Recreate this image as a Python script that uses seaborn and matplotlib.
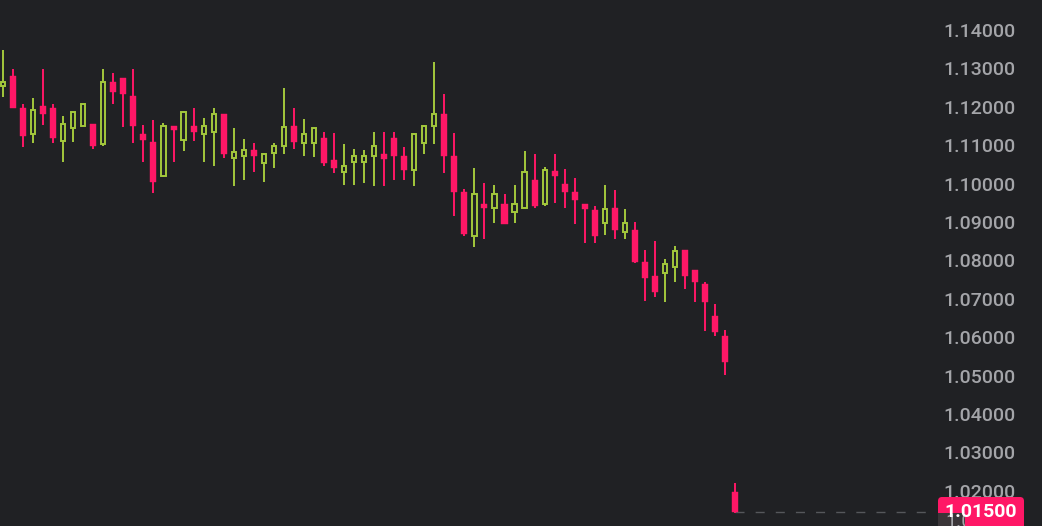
import numpy as np
import matplotlib
matplotlib.use('Agg')
import matplotlib.pyplot as plt
from matplotlib.patches import FancyBboxPatch, Rectangle
from matplotlib.transforms import IdentityTransform
import seaborn as sns

# --- Style -------------------------------------------------------------------
BG    = '#202124'
UP    = '#a3c83c'
DOWN  = '#ff1766'
LABEL = '#a4a5a9'
DASH  = '#55575b'

# --- Data --------------------------------------------------------------------
opens = [1.12542, 1.12802, 1.11969, 1.11299, 1.12021, 1.11969, 1.11102, 1.11456,
         1.11508, 1.11552, 1.11031, 1.12646, 1.12758, 1.12281, 1.11292, 1.11083,
         1.10198, 1.11500, 1.11135, 1.11500, 1.11299, 1.11352, 1.11820, 1.10674,
         1.10719, 1.10875, 1.10529, 1.10789, 1.10987, 1.11500, 1.11049, 1.11049,
         1.11195, 1.10615, 1.10310, 1.10570, 1.10570, 1.10727, 1.10763, 1.11187,
         1.10719, 1.10354, 1.11049, 1.11508, 1.11805, 1.10719, 1.09789, 1.08643,
         1.09469, 1.09372, 1.09469, 1.09268, 1.09357, 1.10094, 1.09469, 1.10336,
         1.09990, 1.09773, 1.09461, 1.09312, 1.08966, 1.09357, 1.08747, 1.08792,
         1.07950, 1.07594, 1.07664, 1.07820, 1.08271, 1.07750, 1.07385, 1.06552,
         1.06031, 1.01969]
highs = [1.13479, 1.12977, 1.12065, 1.12221, 1.12977, 1.12065, 1.11760, 1.11865,
         1.12065, 1.11552, 1.12977, 1.12872, 1.12758, 1.12984, 1.11526, 1.11656,
         1.11570, 1.11500, 1.11891, 1.11969, 1.11708, 1.11969, 1.11820, 1.11440,
         1.11161, 1.11065, 1.10789, 1.11065, 1.12482, 1.11961, 1.11674, 1.11440,
         1.11352, 1.11326, 1.11031, 1.10893, 1.10875, 1.11336, 1.11336, 1.11336,
         1.10945, 1.11310, 1.11526, 1.13159, 1.12326, 1.11310, 1.09852, 1.10398,
         1.10008, 1.09964, 1.09721, 1.09964, 1.10849, 1.10771, 1.10424, 1.10763,
         1.10372, 1.10138, 1.09461, 1.09417, 1.09956, 1.09833, 1.09331, 1.08992,
         1.08271, 1.08513, 1.08036, 1.08383, 1.08271, 1.07750, 1.07430, 1.06865,
         1.06187, 1.02195]
lows = [1.12263, 1.11961, 1.10961, 1.11065, 1.11526, 1.11049, 1.10570, 1.11091,
        1.11508, 1.10901, 1.10979, 1.12073, 1.11469, 1.11065, 1.10570, 1.09747,
        1.10180, 1.10570, 1.10857, 1.11109, 1.10555, 1.10458, 1.10659, 1.09945,
        1.10094, 1.10310, 1.10049, 1.10398, 1.10771, 1.10901, 1.10719, 1.10685,
        1.10458, 1.10268, 1.09964, 1.09964, 1.10016, 1.09945, 1.09945, 1.10094,
        1.10094, 1.09945, 1.10771, 1.11031, 1.10284, 1.09164, 1.08643, 1.08357,
        1.08550, 1.08982, 1.08940, 1.08982, 1.09357, 1.09357, 1.09417, 1.09503,
        1.09357, 1.08948, 1.08445, 1.08461, 1.08661, 1.08550, 1.08550, 1.07940,
        1.06950, 1.07055, 1.06924, 1.07445, 1.07247, 1.06924, 1.06169, 1.06039,
        1.05016, 1.01414]
closes = [1.12654, 1.11977, 1.11247, 1.11909, 1.11820, 1.11195, 1.11544, 1.11857,
          1.12065, 1.10987, 1.12638, 1.12393, 1.12346, 1.11508, 1.11135, 1.10049,
          1.11500, 1.11396, 1.11865, 1.11336, 1.11500, 1.11820, 1.10771, 1.10831,
          1.10875, 1.10719, 1.10771, 1.10979, 1.11482, 1.11091, 1.11284, 1.11440,
          1.10529, 1.10414, 1.10458, 1.10719, 1.10719, 1.10979, 1.10633, 1.10727,
          1.10354, 1.11284, 1.11500, 1.11805, 1.10727, 1.09789, 1.08687, 1.09721,
          1.09372, 1.09721, 1.08948, 1.09461, 1.10294, 1.09424, 1.10354, 1.10206,
          1.09789, 1.09573, 1.09331, 1.08643, 1.09346, 1.08792, 1.08982, 1.07966,
          1.07550, 1.07185, 1.07898, 1.08253, 1.07602, 1.07445, 1.06924, 1.06143,
          1.05362, 1.01460]

y_ticks = [1.02, 1.03, 1.04, 1.05, 1.06, 1.07, 1.08, 1.09, 1.10, 1.11, 1.12, 1.13, 1.14]
last_label = '1.01500'

# --- Figure ------------------------------------------------------------------
sns.set_theme(style='dark', rc={'axes.facecolor': BG, 'figure.facecolor': BG,
                                'lines.scale_dashes': False})
plt.rcParams['font.family'] = ['Roboto', 'DejaVu Sans']

fig = plt.figure(figsize=(10.42, 5.26), dpi=100)
ax = fig.add_axes([0, 0, 932 / 1042, 1])

o = np.array(opens)
h = np.array(highs)
l = np.array(lows)
c = np.array(closes)
x = np.arange(len(o))
up = c >= o

body_lo = np.minimum(o, c)
body_h = np.maximum(np.abs(c - o), 0.00006)

ax.vlines(x, l, h, colors=np.where(up, UP, DOWN), linewidth=1.4, zorder=2)
ax.bar(x[up], body_h[up], bottom=body_lo[up], width=0.42, color=BG,
       edgecolor=UP, linewidth=1.4, zorder=3)
ax.bar(x[~up], body_h[~up], bottom=body_lo[~up], width=0.6, color=DOWN,
       edgecolor=DOWN, linewidth=0.3, zorder=3)

x_right = -0.3 + 932 / 10.03
ax.plot([x[-1], x_right], [c[-1], c[-1]], color=DASH, linewidth=1.0,
        dashes=(6.5, 8), zorder=1, clip_on=False)

ax.set_xlim(-0.3, x_right)
ax.set_ylim(1.010833, 1.147813)
ax.set_xticks([])
ax.set_yticks(y_ticks)
ax.set_yticklabels([f'{v:.5f}' for v in y_ticks], fontweight='medium')
ax.yaxis.tick_right()
ax.tick_params(axis='y', length=0, pad=8, labelsize=14, labelcolor=LABEL)
ax.grid(False)
sns.despine(ax=ax, left=True, bottom=True, right=True, top=True)

# --- Last price label ----------------------------------------------------------
ident = IdentityTransform()
box = FancyBboxPatch((938, -6), 86, 35, boxstyle='round,pad=0,rounding_size=4',
                     transform=ident, facecolor=DOWN, edgecolor='none', zorder=5)
fig.patches.append(box)
shade = Rectangle((938, 0), 27, 13, transform=ident, facecolor='#3a3538',
                  edgecolor='none', zorder=6)
fig.patches.append(shade)
ghost = fig.text(945 / 1042, 4 / 526, last_label, color=LABEL, fontsize=14,
                 ha='left', va='center', zorder=7)
ghost.set_clip_path(shade)
fig.text(981 / 1042, 14.3 / 526, last_label, color='white', fontsize=14,
         fontweight='bold', ha='center', va='center', zorder=8)

fig.savefig('out.png', dpi=100, facecolor=BG)
